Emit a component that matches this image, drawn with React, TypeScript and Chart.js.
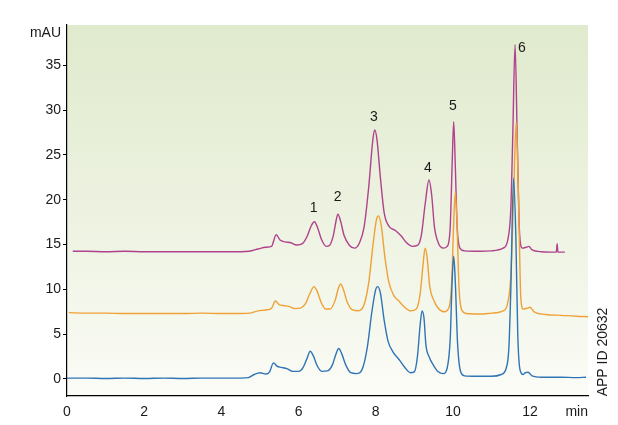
import React, { useEffect, useRef } from "react";
import { Chart, registerables } from "chart.js";

Chart.register(...registerables);

// ---- Data (retention time in min, absorbance in mAU) ----
const blueTime = [
  0.0, 0.5, 1.0, 1.5, 2.0, 2.5, 3.0, 3.5, 4.0, 4.5, 4.7, 4.85, 5.0, 5.15, 5.25, 5.35, 5.45, 5.55, 5.7, 5.85,
  6.0, 6.12, 6.22, 6.3, 6.38, 6.48, 6.6, 6.75, 6.88, 6.97, 7.04, 7.12, 7.22, 7.35, 7.5, 7.65, 7.78, 7.9, 8.0,
  8.05, 8.12, 8.22, 8.32, 8.45, 8.6, 8.75, 8.9, 9.0, 9.08, 9.15, 9.2, 9.25, 9.3, 9.38, 9.5, 9.62, 9.75, 9.85,
  9.93, 9.98, 10.02, 10.06, 10.12, 10.2, 10.3, 10.6, 11.0, 11.25, 11.38, 11.45, 11.5, 11.57, 11.63, 11.68,
  11.74, 11.82, 11.88, 11.95, 12.05, 12.3, 12.8, 13.2, 13.45,
];
const blueSignal = [
  0.1, 0.1, 0.05, 0.1, 0.05, 0.1, 0.05, 0.1, 0.1, 0.1, 0.15, 0.5, 0.7, 0.55, 0.8, 1.8, 1.4, 1.3, 1.15, 0.85,
  0.85, 1.3, 2.3, 3.1, 2.6, 1.5, 0.85, 0.9, 1.6, 2.8, 3.4, 2.8, 1.6, 0.7, 0.6, 1.1, 3.5, 7.5, 10.0,
  10.3, 9.6, 6.5, 4.2, 3.0, 2.2, 1.3, 0.7, 0.8, 2.5, 6.0, 7.6, 6.8, 3.8, 2.5, 1.5, 0.8, 0.6, 1.2,
  4.5, 11.0, 13.7, 11.0, 4.0, 0.8, 0.35, 0.3, 0.3, 0.5, 1.2, 3.5, 10.0, 22.4, 16.0, 5.0,
  1.0, 0.5, 0.7, 0.75, 0.35, 0.2, 0.2, 0.15, 0.2,
];

const orangeTime = [
  0.05, 0.5, 1.0, 1.5, 2.0, 2.5, 3.0, 3.5, 4.0, 4.5, 4.75, 4.95, 5.15, 5.3, 5.4, 5.5, 5.6, 5.75, 5.9, 6.05,
  6.18, 6.3, 6.4, 6.48, 6.58, 6.7, 6.82, 6.95, 7.03, 7.09, 7.16, 7.26, 7.4, 7.55, 7.7, 7.82, 7.93, 8.02, 8.07,
  8.14, 8.24, 8.34, 8.47, 8.6, 8.75, 8.9, 9.05, 9.15, 9.22, 9.28, 9.33, 9.4, 9.5, 9.62, 9.77, 9.9, 9.97,
  10.02, 10.06, 10.1, 10.16, 10.24, 10.35, 10.7, 11.0, 11.3, 11.42, 11.5, 11.57, 11.64, 11.7, 11.76, 11.82,
  11.92, 12.0, 12.1, 12.4, 12.8, 13.2, 13.5,
];
const orangeSignal = [
  7.4, 7.35, 7.35, 7.3, 7.3, 7.3, 7.3, 7.35, 7.3, 7.3, 7.35, 7.6, 7.7, 7.9, 8.7, 8.3, 8.2, 8.1, 7.85, 7.9,
  8.4, 9.6, 10.3, 9.8, 8.6, 7.8, 7.8, 8.8, 10.1, 10.6, 10.0, 8.6, 7.7, 7.6, 8.3, 10.8, 15.0, 17.8, 18.2,
  17.2, 13.5, 10.8, 9.3, 8.7, 8.0, 7.6, 7.8, 9.5, 12.5, 14.6, 13.6, 10.3, 8.8, 7.9, 7.5, 8.0, 11.0,
  17.5, 20.8, 18.0, 10.0, 7.6, 7.3, 7.25, 7.35, 7.6, 8.5, 11.5, 20.0, 28.7, 20.0, 9.0, 7.8,
  7.9, 8.0, 7.5, 7.2, 7.1, 7.0, 6.95,
];

const magentaTime = [
  0.15, 0.5, 1.0, 1.5, 2.0, 2.5, 3.0, 3.5, 4.0, 4.5, 4.72, 4.95, 5.15, 5.3, 5.42, 5.52, 5.65, 5.8, 5.95, 6.1,
  6.22, 6.33, 6.41, 6.5, 6.6, 6.72, 6.8, 6.9, 6.97, 7.02, 7.09, 7.18, 7.32, 7.45, 7.58, 7.7, 7.82, 7.92, 7.97,
  8.03, 8.12, 8.22, 8.35, 8.5, 8.65, 8.8, 8.95, 9.08, 9.18, 9.28, 9.38, 9.45, 9.52, 9.62, 9.75, 9.85, 9.93,
  9.98, 10.02, 10.06, 10.11, 10.18, 10.3, 10.7, 11.0, 11.3, 11.42, 11.5, 11.55, 11.61, 11.67, 11.73, 11.8,
  11.9, 11.97, 12.05, 12.3, 12.68, 12.7, 12.72, 12.9,
];
const magentaSignal = [
  14.25, 14.25, 14.2, 14.25, 14.2, 14.2, 14.2, 14.2, 14.2, 14.2, 14.25, 14.5, 14.7, 14.8, 16.1, 15.5, 15.3, 15.2, 14.95, 15.1,
  15.9, 17.1, 17.55, 16.8, 15.5, 14.8, 14.9, 16.0, 17.6, 18.4, 17.6, 16.0, 14.9, 14.6, 15.2, 17.0, 21.5, 26.5, 27.8,
  26.8, 22.5, 18.5, 17.0, 16.6, 16.0, 15.2, 14.8, 14.9, 16.0, 19.5, 22.2, 20.5, 17.0, 15.2, 14.6, 14.8, 17.0,
  24.0, 28.7, 24.0, 17.0, 14.6, 14.3, 14.25, 14.3, 14.6, 15.5, 19.0, 27.0, 37.3, 26.0, 16.0, 14.6,
  14.7, 14.8, 14.4, 14.2, 14.15, 15.1, 14.15, 14.15,
];

const peakLabels = ["1", "2", "3", "4", "5", "6"];
const peakLabelTime = [6.39, 7.01, 7.95, 9.35, 10.0, 11.79];
const peakLabelSignal = [19.1, 20.3, 29.2, 23.5, 30.5, 36.9];

const xTickValues = [0, 2, 4, 6, 8, 10, 12];
const yTickValues = [0, 5, 10, 15, 20, 25, 30, 35];

const FONT = "'Liberation Sans', Arial, Helvetica, sans-serif";

function toPoints(t: number[], v: number[]) {
  return t.map((x, i) => ({ x, y: v[i] }));
}

const backgroundPlugin = {
  id: "bgGradient",
  beforeDraw(chart: any) {
    const { ctx, chartArea } = chart;
    if (!chartArea) return;
    const g = ctx.createLinearGradient(0, chartArea.top, 0, chartArea.bottom);
    g.addColorStop(0, "#e0eacd");
    g.addColorStop(0.55, "#eef3e2");
    g.addColorStop(1, "#fbfcf7");
    ctx.save();
    ctx.fillStyle = g;
    ctx.fillRect(chartArea.left, chartArea.top, chartArea.right - chartArea.left, chartArea.bottom - chartArea.top);
    ctx.restore();
  },
};

const textPlugin = {
  id: "texts",
  afterDraw(chart: any) {
    const { ctx, chartArea, scales } = chart;
    const xs = scales.x;
    const ys = scales.y;
    ctx.save();
    ctx.fillStyle = "#1a1a1a";
    ctx.font = `14px ${FONT}`;
    ctx.textBaseline = "middle";
    ctx.textAlign = "center";
    peakLabels.forEach((lab, i) => {
      ctx.fillText(lab, xs.getPixelForValue(peakLabelTime[i]), ys.getPixelForValue(peakLabelSignal[i]));
    });
    // axis unit labels
    ctx.textAlign = "right";
    ctx.fillText("mAU", chartArea.left - 6, chartArea.top + 8);
    ctx.fillText("min", chartArea.right, chartArea.bottom + 16);
    // rotated id text
    ctx.translate(chartArea.right + 15, chartArea.bottom - 44);
    ctx.rotate(-Math.PI / 2);
    ctx.textAlign = "center";
    ctx.fillText("APP ID 20632", 0, 0);
    ctx.restore();
  },
};

export default function App() {
  const canvasRef = useRef<HTMLCanvasElement | null>(null);

  useEffect(() => {
    if (!canvasRef.current) return;
    const lineCommon = {
      borderWidth: 1.4,
      pointRadius: 0,
      fill: false,
      cubicInterpolationMode: "monotone" as const,
    };
    const chart = new Chart(canvasRef.current, {
      type: "line",
      data: {
        datasets: [
          { ...lineCommon, label: "blue", data: toPoints(blueTime, blueSignal), borderColor: "#2f74b5" },
          { ...lineCommon, label: "orange", data: toPoints(orangeTime, orangeSignal), borderColor: "#efa036" },
          { ...lineCommon, label: "magenta", data: toPoints(magentaTime, magentaSignal), borderColor: "#b0418d" },
        ],
      },
      options: {
        animation: false,
        responsive: false,
        devicePixelRatio: 1,
        layout: { padding: { top: 25, right: 30, left: 0, bottom: 0 } },
        plugins: { legend: { display: false }, tooltip: { enabled: false } },
        scales: {
          x: {
            type: "linear",
            min: 0,
            max: 13.5,
            afterBuildTicks(scale: any) {
              scale.ticks = xTickValues.map((v) => ({ value: v }));
            },
            afterFit(scale: any) {
              scale.height = 29;
            },
            grid: { display: true, drawOnChartArea: false, drawTicks: false, color: "#000" },
            border: { display: true, color: "#000", width: 1.2 },
            ticks: { color: "#1a1a1a", font: { family: FONT, size: 14 }, padding: 8, maxRotation: 0 },
          },
          y: {
            type: "linear",
            min: -1.9,
            max: 39.5,
            afterBuildTicks(scale: any) {
              scale.ticks = yTickValues.map((v) => ({ value: v }));
            },
            afterFit(scale: any) {
              scale.width = 67;
            },
            grid: { display: true, drawOnChartArea: false, drawTicks: true, tickLength: 4, color: "#000" },
            border: { display: true, color: "#000", width: 1.2 },
            ticks: { color: "#1a1a1a", font: { family: FONT, size: 14 }, padding: 2 },
          },
        },
      },
      plugins: [backgroundPlugin, textPlugin],
    });
    return () => chart.destroy();
  }, []);

  return (
    <div style={{ position: "fixed", left: 0, top: 0, width: 618, height: 425, background: "#fff" }}>
      <canvas ref={canvasRef} width={618} height={425} style={{ width: 618, height: 425, display: "block" }} />
    </div>
  );
}
